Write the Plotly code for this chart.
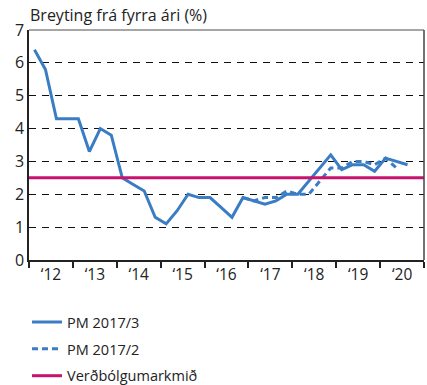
import plotly.graph_objects as go

# Quarterly inflation, year-on-year change (%), starting 2012Q1
start_year = 2012
pm_2017_3 = [6.4, 5.8, 4.3, 4.3, 4.3, 3.3, 4.0, 3.8,
             2.5, 2.3, 2.1, 1.3, 1.1, 1.5, 2.0, 1.9,
             1.9, 1.6, 1.3, 1.9, 1.8, 1.7, 1.8, 2.0,
             2.0, 2.4, 2.8, 3.2, 2.75, 2.9, 2.9, 2.7,
             3.1, 3.0, 2.9]
# Previous forecast, starting 2016Q4
pm_2017_2_start = 19
pm_2017_2 = [1.9, 1.8, 1.9, 1.9, 2.1, 2.0, 2.0, 2.4, 2.8, 2.8,
             3.0, 3.0, 2.9, 3.1, 2.8]
inflation_target = 2.5
year_labels = ["‘12", "‘13", "‘14", "‘15", "‘16", "‘17", "‘18", "‘19", "‘20"]

BLUE = "#3A7DC5"
MAGENTA = "#C8136E"
FONT = "Open Sans"


def quarter_x(i):
    return start_year + (i + 0.5) / 4


x_new = [quarter_x(i) for i in range(len(pm_2017_3))]
x_old = [quarter_x(pm_2017_2_start + i) for i in range(len(pm_2017_2))]
end_year = start_year + len(year_labels)

fig = go.Figure()
fig.add_trace(go.Scatter(x=x_old, y=pm_2017_2, mode="lines", name="PM 2017/2",
                         line=dict(color=BLUE, width=3, dash="6px,4px"),
                         legendgroup="b", legendrank=2))
fig.add_trace(go.Scatter(x=x_new, y=pm_2017_3, mode="lines", name="PM 2017/3",
                         line=dict(color=BLUE, width=3), legendgroup="a",
                         legendrank=1))
fig.add_trace(go.Scatter(x=[start_year, end_year],
                         y=[inflation_target, inflation_target], mode="lines",
                         name="Verðbólgumarkmið",
                         line=dict(color=MAGENTA, width=3), legendgroup="c",
                         legendrank=3))

fig.update_layout(
    width=427, height=385,
    margin=dict(l=29, r=3, t=30, b=125),
    paper_bgcolor="white", plot_bgcolor="white",
    font=dict(family=FONT, size=15, color="#222"),
    showlegend=True,
    legend=dict(x=-0.005, y=0.205, xref="paper", yref="container",
                xanchor="left", yanchor="top",
                font=dict(size=14.5, color="#222"), tracegroupgap=5,
                bgcolor="rgba(0,0,0,0)"),
    xaxis=dict(range=[start_year, end_year],
               tickvals=[start_year + i + 0.5 for i in range(len(year_labels))],
               ticktext=year_labels, ticks="", showgrid=False,
               showline=True, linecolor="#222", linewidth=1.5,
               zeroline=False, tickfont=dict(size=15.5, color="#222"),
               minor=dict(tickvals=list(range(start_year, end_year + 1)),
                          ticks="outside", ticklen=6, tickcolor="#222",
                          tickwidth=1.5, showgrid=False)),
    yaxis=dict(range=[0, 7], dtick=1, ticks="", showgrid=True,
               gridcolor="#111", gridwidth=1, griddash="7px,6px",
               showline=True, linecolor="#222", linewidth=1.5,
               zeroline=False, tickfont=dict(size=16, color="#222")),
    shapes=[
        dict(type="line", xref="paper", yref="paper", x0=0, x1=1, y0=1, y1=1,
             line=dict(color="#888", width=1.5)),
        dict(type="line", xref="paper", yref="paper", x0=1, x1=1, y0=0, y1=1,
             line=dict(color="#444", width=1.5)),
    ],
    annotations=[
        dict(text="Breyting frá fyrra ári (%)", xref="paper", yref="paper",
             x=0, y=1, xanchor="left", yanchor="bottom", yshift=2, xshift=-1,
             showarrow=False, font=dict(size=16, color="#222")),
    ],
)

fig.write_html("out.html")
